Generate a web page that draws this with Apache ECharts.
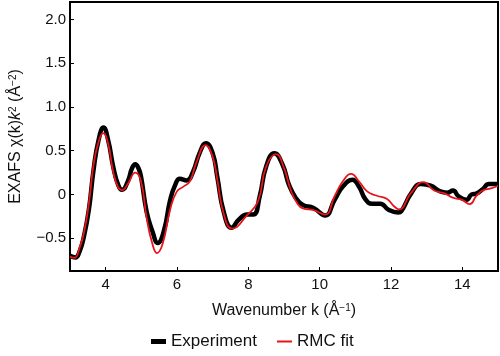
<!DOCTYPE html>
<html>
<head>
<meta charset="utf-8">
<script src="https://cdn.jsdelivr.net/npm/echarts@6/dist/echarts.min.js"></script>
<style>html,body{margin:0;padding:0;background:#fff}#c{width:500px;height:356px}</style>
</head>
<body>
<div id="c"></div>
<script>
const expK = [3.0,3.15,3.27,3.39,3.53,3.66,3.8,3.94,4.07,4.21,4.35,4.46,4.62,4.74,4.83,4.92,4.99,5.15,5.31,5.46,5.63,5.81,5.95,6.08,6.27,6.45,6.63,6.81,7.0,7.13,7.31,7.53,7.73,7.96,8.14,8.32,8.5,8.73,8.96,9.14,9.33,9.53,9.83,10.15,10.42,10.65,10.92,11.1,11.29,11.47,11.7,11.93,12.2,12.29,12.57,12.84,13.11,13.38,13.57,13.74,13.89,14.12,14.26,14.39,14.57,14.75,14.94,15.0];
const expChi = [-0.70,-0.72,-0.65,-0.48,-0.17,0.28,0.62,0.765,0.62,0.32,0.11,0.053,0.15,0.30,0.345,0.30,0.205,-0.2,-0.42,-0.555,-0.42,-0.06,0.11,0.18,0.16,0.26,0.47,0.585,0.47,0.2,-0.2,-0.38,-0.29,-0.23,-0.23,-0.02,0.32,0.47,0.34,0.11,-0.04,-0.12,-0.155,-0.24,-0.06,0.09,0.167,0.09,-0.06,-0.105,-0.105,-0.175,-0.205,-0.19,0.015,0.12,0.1,0.035,0.02,0.045,-0.02,-0.06,0.0,0.01,0.06,0.12,0.12,0.12];
const fitK = [3.0,3.13,3.26,3.39,3.53,3.66,3.8,3.93,4.07,4.21,4.35,4.46,4.62,4.83,4.99,5.15,5.3,5.44,5.6,5.81,5.99,6.18,6.36,6.54,6.8,7.0,7.13,7.31,7.55,7.96,8.27,8.5,8.78,9.0,9.19,9.37,9.53,9.83,10.15,10.42,10.65,10.88,11.1,11.33,11.61,11.88,12.1,12.22,12.57,12.91,13.21,13.48,13.75,13.98,14.21,14.39,14.57,14.8,15.0];
const fitChi = [-0.71,-0.725,-0.62,-0.44,-0.1,0.34,0.6,0.70,0.58,0.26,0.08,0.05,0.12,0.25,0.15,-0.27,-0.55,-0.67,-0.56,-0.17,0.03,0.09,0.15,0.36,0.565,0.43,0.17,-0.22,-0.39,-0.24,-0.08,0.32,0.46,0.3,0.05,-0.1,-0.16,-0.18,-0.23,-0.02,0.15,0.235,0.15,0.035,-0.015,-0.05,-0.14,-0.17,0.02,0.14,0.045,0.015,-0.04,-0.06,-0.11,-0.02,0.045,0.07,0.1];
const xTicks = [4,6,8,10,12,14];
const yTicks = [-0.5,0,0.5,1.0,1.5,2.0];
const seriesNames = ['Experiment','RMC fit'];

const zip = (a,b) => a.map((v,i)=>[v,b[i]]);
const fmt = v => v === 0 ? '0' : v.toFixed(1).replace('-', '\u2212');
const FONT = 'Liberation Sans, Arial, sans-serif';
const chart = echarts.init(document.getElementById('c'), null, {renderer:'canvas'});
chart.setOption({
  animation: false,
  textStyle: {fontFamily: FONT},
  grid: {left: 61, right: 2, top: 2, bottom: 85, show: true, borderColor: '#000', borderWidth: 2, backgroundColor: 'transparent'},
  xAxis: {
    type: 'value', min: 3, max: 15,
    name: '{t|Wavenumber k (Å}{s|\u22121}{t|)}',
    nameLocation: 'middle', nameGap: 32,
    nameTextStyle: {rich: {t: {fontSize: 16, color: '#111', fontFamily: FONT}, s: {fontSize: 10, color: '#111', verticalAlign: 'top', fontFamily: FONT}}},
    axisLine: {show: true, onZero: false, lineStyle: {color: '#000', width: 2}},
    axisTick: {show: true, inside: true, length: 4, customValues: xTicks, lineStyle: {color: '#000', width: 1}},
    axisLabel: {customValues: xTicks, fontSize: 15, color: '#111', margin: 6, formatter: v => String(v)},
    splitLine: {show: false}
  },
  yAxis: {
    type: 'value', min: -0.875, max: 2.2,
    name: '{t|EXAFS χ(k)}{i|k}{s|2}{t| (Å}{s|\u22122}{t|)}',
    nameLocation: 'middle', nameGap: 46, nameRotate: 90,
    nameTextStyle: {rich: {t: {fontSize: 16, color: '#111', fontFamily: FONT}, i: {fontSize: 16, fontStyle: 'italic', color: '#111', fontFamily: FONT}, s: {fontSize: 10, color: '#111', verticalAlign: 'top', fontFamily: FONT}}},
    axisLine: {show: true, onZero: false, lineStyle: {color: '#000', width: 2}},
    axisTick: {show: true, inside: true, length: 4, customValues: yTicks, lineStyle: {color: '#000', width: 1}},
    axisLabel: {customValues: yTicks, fontSize: 15, color: '#111', margin: 4, formatter: fmt},
    splitLine: {show: false}
  },
  legend: [
    {data: [{name: seriesNames[0], icon: 'rect'}], left: 146, top: 328, itemWidth: 15, itemHeight: 5, itemGap: 10,
     textStyle: {fontSize: 17, color: '#111', fontFamily: FONT}},
    {data: [{name: seriesNames[1], icon: 'rect'}], left: 272, top: 328, itemWidth: 15, itemHeight: 2, itemGap: 10,
     textStyle: {fontSize: 17, color: '#111', fontFamily: FONT}}
  ],
  series: [
    {name: seriesNames[0], type: 'line', data: zip(expK, expChi), smooth: 0.5, showSymbol: false, symbol: 'none',
     lineStyle: {color: '#000', width: 4.5}, itemStyle: {color: '#000'}, z: 2},
    {name: seriesNames[1], type: 'line', data: zip(fitK, fitChi), smooth: 0.5, showSymbol: false, symbol: 'none',
     lineStyle: {color: '#e8141b', width: 1.8}, itemStyle: {color: '#e8141b'}, z: 3}
  ]
});
</script>
</body>
</html>
